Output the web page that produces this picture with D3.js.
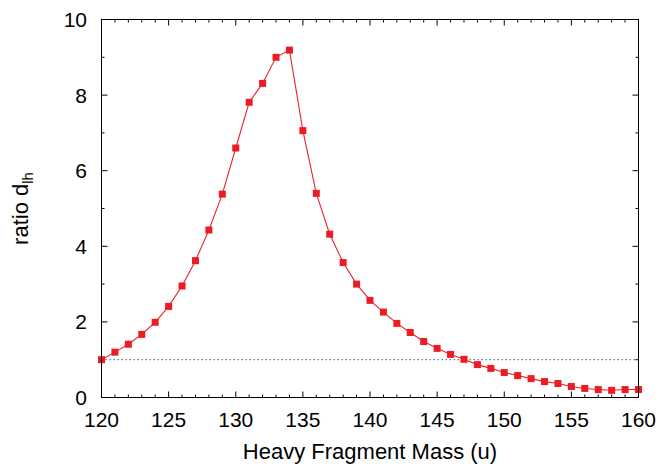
<!DOCTYPE html>
<html>
<head>
<meta charset="utf-8">
<script src="https://cdn.jsdelivr.net/npm/d3@7"></script>
<style>
  html, body { margin: 0; padding: 0; background: #fff; }
  svg text { font-family: "Liberation Sans", Arial, Helvetica, sans-serif; fill: #000; }
</style>
</head>
<body>
<svg id="chart" width="660" height="466"></svg>
<script>
const masses = [120,121,122,123,124,125,126,127,128,129,130,131,132,133,134,135,136,137,138,139,140,
                141,142,143,144,145,146,147,148,149,150,151,152,153,154,155,156,157,158,159,160];
const ratios = [1.00,1.20,1.41,1.67,1.99,2.41,2.95,3.62,4.43,5.38,6.60,7.81,8.31,9.00,9.19,7.06,5.40,
                4.32,3.57,3.00,2.57,2.26,1.96,1.72,1.48,1.30,1.14,1.01,0.87,0.77,0.66,0.58,0.50,0.42,
                0.37,0.29,0.24,0.21,0.19,0.21,0.21];
const xMajorTicks = [120,125,130,135,140,145,150,155,160];
const yMajorTicks = [0,2,4,6,8,10];
const referenceLevel = [1];

const svg = d3.select("#chart");
const m = {left: 101.5, top: 19.5, right: 638.5, bottom: 397.5};
const x = d3.scaleLinear().domain([120,160]).range([m.left, m.right]);
const y = d3.scaleLinear().domain([0,10]).range([m.bottom, m.top]);

const xMinor = d3.range(120, 161, 1).filter(v => !xMajorTicks.includes(v));
const yMinor = d3.range(0, 11, 1).filter(v => !yMajorTicks.includes(v));

const g = svg.append("g");
const tickStyle = sel => sel.attr("stroke", "#000").attr("stroke-width", 1);

// ticks, inward on all four sides
xMajorTicks.forEach(v => {
  g.append("line").attr("x1", x(v)).attr("x2", x(v)).attr("y1", m.bottom).attr("y2", m.bottom - 6).call(tickStyle);
  g.append("line").attr("x1", x(v)).attr("x2", x(v)).attr("y1", m.top).attr("y2", m.top + 6).call(tickStyle);
});
xMinor.forEach(v => {
  g.append("line").attr("x1", x(v)).attr("x2", x(v)).attr("y1", m.bottom).attr("y2", m.bottom - 3).call(tickStyle);
  g.append("line").attr("x1", x(v)).attr("x2", x(v)).attr("y1", m.top).attr("y2", m.top + 3).call(tickStyle);
});
yMajorTicks.forEach(v => {
  g.append("line").attr("y1", y(v)).attr("y2", y(v)).attr("x1", m.left).attr("x2", m.left + 6).call(tickStyle);
  g.append("line").attr("y1", y(v)).attr("y2", y(v)).attr("x1", m.right).attr("x2", m.right - 6).call(tickStyle);
});
yMinor.forEach(v => {
  g.append("line").attr("y1", y(v)).attr("y2", y(v)).attr("x1", m.left).attr("x2", m.left + 3).call(tickStyle);
  g.append("line").attr("y1", y(v)).attr("y2", y(v)).attr("x1", m.right).attr("x2", m.right - 3).call(tickStyle);
});

// tick labels
g.selectAll(".xl").data(xMajorTicks).enter().append("text")
  .attr("x", d => x(d)).attr("y", 427).attr("text-anchor", "middle")
  .attr("font-size", 21).text(d => d);
g.selectAll(".yl").data(yMajorTicks).enter().append("text")
  .attr("x", 87).attr("y", d => y(d) + 7.5).attr("text-anchor", "end")
  .attr("font-size", 21).text(d => d);

// reference dotted line
g.selectAll(".ref").data(referenceLevel).enter().append("line")
  .attr("x1", m.left).attr("x2", m.right).attr("y1", d => y(d)).attr("y2", d => y(d))
  .attr("stroke", "#3c4c9c").attr("stroke-width", 1).attr("stroke-dasharray", "1.5,2.5");

// data line
const data = masses.map((v, i) => ({m: v, r: ratios[i]}));
g.append("path").datum(data)
  .attr("fill", "none").attr("stroke", "#e8242c").attr("stroke-width", 1.1)
  .attr("d", d3.line().x(d => x(d.m)).y(d => y(d.r)));
g.selectAll(".pt").data(data).enter().append("rect")
  .attr("x", d => x(d.m) - 3.5).attr("y", d => y(d.r) - 3.5)
  .attr("width", 7).attr("height", 7).attr("fill", "#ec1c24");

// frame
g.append("rect").attr("x", m.left).attr("y", m.top)
  .attr("width", m.right - m.left).attr("height", m.bottom - m.top)
  .attr("fill", "none").attr("stroke", "#000").attr("stroke-width", 1);

// axis titles
svg.append("text").attr("x", (m.left + m.right) / 2).attr("y", 459)
  .attr("text-anchor", "middle").attr("font-size", 22).text("Heavy Fragment Mass (u)");
const yt = svg.append("text").attr("transform", `translate(28,${(m.top + m.bottom) / 2}) rotate(-90)`)
  .attr("text-anchor", "middle").attr("font-size", 22);
yt.append("tspan").text("ratio d");
yt.append("tspan").attr("font-size", 15).attr("dy", 5).text("lh");
</script>
</body>
</html>
